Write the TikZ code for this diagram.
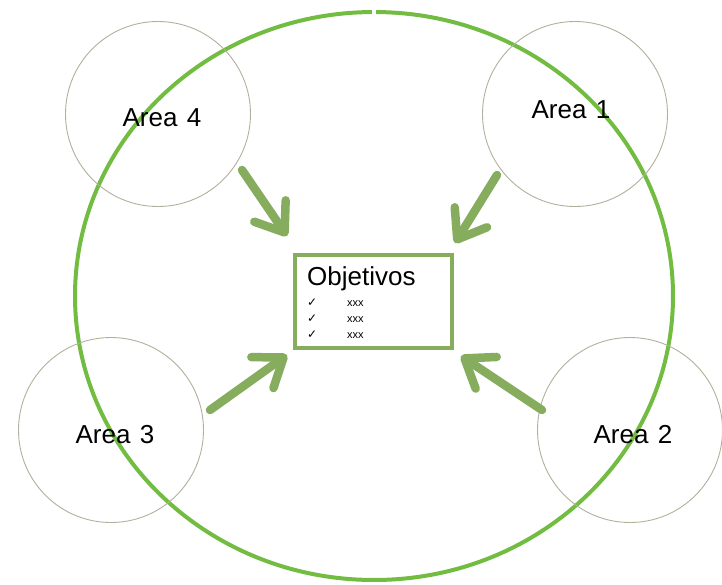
\documentclass[tikz,border=0pt]{standalone}
\usepackage{fontspec}
\setmainfont{Liberation Sans}
\newfontfamily\symfont{DejaVu Sans}
\usetikzlibrary{arrows.meta,positioning}

\definecolor{ringgreen}{RGB}{114,188,66}
\definecolor{arrowgreen}{RGB}{134,172,94}
\definecolor{areagray}{RGB}{176,176,156}

\tikzset{
  areacircle/.style={circle,draw=areagray,line width=0.9pt,minimum size=185pt,inner sep=0pt},
  arealabel/.style={inner sep=0pt,font=\fontsize{26}{26}\selectfont},
  goalbox/.style={rectangle,draw=arrowgreen,line width=4pt,fill=white,
    minimum width=157pt,minimum height=93pt},
  bigarrow/.style={draw=arrowgreen,line width=8.5pt,line cap=round,
    -{Straight Barb[length=26pt,width=38pt,round]}},
  itemtext/.style={anchor=base west,inner sep=0pt,font=\fontsize{11}{11}\selectfont}
}

\begin{document}
\begin{tikzpicture}[x=1pt,y=-1pt]
  \useasboundingbox (0,0) rectangle (722,584);

  % outer ring
  \draw[ringgreen,line width=4pt] (374,296) ++(270.4:299 and 284)
    arc[start angle=270.4,end angle=629.6,x radius=299,y radius=284];

  % areas
  \node[areacircle] (a1) at (575,114) {};
  \node[areacircle] (a2) at (630,430) {};
  \node[areacircle] (a3) at (111,430) {};
  \node[areacircle] (a4) at (158,114) {};
  \node[arealabel] (l1) at ([shift={(-4,-4)}]a1.center) {Area\hspace{0.36em}1};
  \node[arealabel] (l2) at ([shift={(3,5)}]a2.center) {Area\hspace{0.36em}2};
  \node[arealabel] (l3) at ([shift={(4,5)}]a3.center) {Area\hspace{0.36em}3};
  \node[arealabel] (l4) at ([shift={(4,4)}]a4.center) {Area\hspace{0.36em}4};

  % objectives
  \node[goalbox] (obj) at (373.5,301.5) {};
  \node[anchor=base west,inner sep=0pt,font=\fontsize{26}{26}\selectfont] (title) at (307,285) {Objetivos};
  \foreach \y [count=\i] in {306,322,338}{
    \node[itemtext,font=\symfont\fontsize{12}{12}\selectfont] (chk\i) at (307,\y) {✓};
    \node[itemtext] (item\i) at (347,\y) {xxx};
  }

  % arrows
  \coordinate (s1) at (497,175); \coordinate (t1) at (455,243);
  \coordinate (s2) at (542,410); \coordinate (t2) at (461,356);
  \coordinate (s3) at (210,410); \coordinate (t3) at (287,355);
  \coordinate (s4) at (242,170); \coordinate (t4) at (287,236);
  \foreach \n in {1,2,3,4}
    \draw[bigarrow] (s\n) -- (t\n);
\end{tikzpicture}
\end{document}
